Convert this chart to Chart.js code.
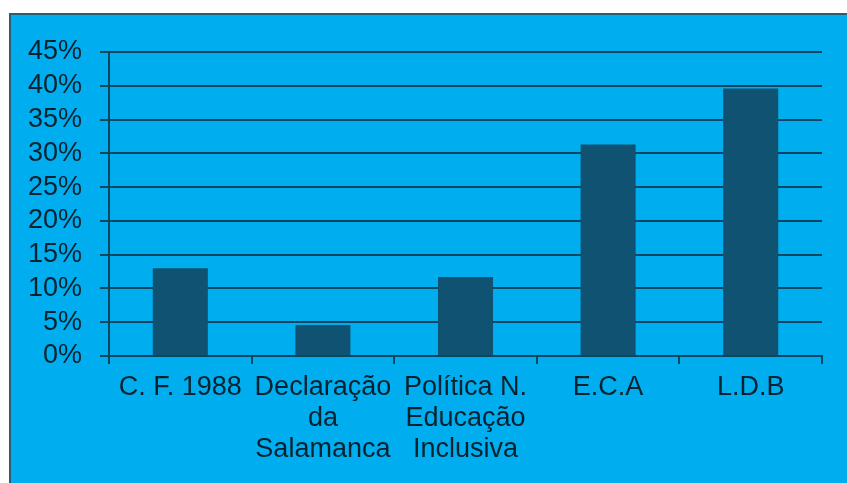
<!DOCTYPE html>
<html>
<head>
<meta charset="utf-8">
<script src="https://cdn.jsdelivr.net/npm/chart.js@4/dist/chart.umd.min.js"></script>
<style>
    html, body { margin: 0; padding: 0; background: #ffffff; overflow: hidden; }
    #frame {
        position: absolute;
        left: 9px;
        top: 13px;
        width: 850px;
        height: 480px;
        background: #00aeef;
        border: 2px solid #2d5d70;
    }
    #chart { display: block; }
</style>
</head>
<body>
<div id="frame"><canvas id="chart" width="836" height="470"></canvas></div>
<script>
// Chart data
const categories = [
    ['C. F. 1988'],
    ['Declaração', 'da', 'Salamanca'],
    ['Política N.', 'Educação', 'Inclusiva'],
    ['E.C.A'],
    ['L.D.B']
];
const percentValues = [13.0, 4.6, 11.7, 31.3, 39.6];
const yTickMax = 45;
const yTickStep = 5;

const darkLine = '#0b4660';
const textColor = '#06222f';
const labelFont = { family: '"Liberation Sans", Arial, sans-serif', size: 27, lineHeight: 1.15 };

const ctx = document.getElementById('chart');

new Chart(ctx, {
    type: 'bar',
    data: {
        labels: categories,
        datasets: [{
            data: percentValues,
            backgroundColor: '#0f5272',
            borderWidth: 0,
            categoryPercentage: 1,
            barPercentage: 0.386
        }]
    },
    options: {
        responsive: false,
        animation: false,
        layout: {
            padding: { top: 37, right: 25, bottom: 0, left: 0 }
        },
        plugins: {
            legend: { display: false },
            title: { display: false },
            tooltip: { enabled: false }
        },
        scales: {
            x: {
                offset: true,
                grid: {
                    offset: true,
                    drawOnChartArea: false,
                    drawTicks: true,
                    tickLength: 8,
                    color: darkLine,
                    lineWidth: 2
                },
                border: { display: true, color: darkLine, width: 2 },
                ticks: {
                    color: textColor,
                    font: labelFont,
                    padding: 8,
                    maxRotation: 0,
                    autoSkip: false
                },
                afterFit: function(scale) {
                    scale.height = 129;
                }
            },
            y: {
                min: 0,
                max: yTickMax,
                grid: {
                    color: darkLine,
                    lineWidth: 2,
                    drawTicks: true,
                    tickLength: 9
                },
                border: { display: true, color: darkLine, width: 2 },
                ticks: {
                    stepSize: yTickStep,
                    autoSkip: false,
                    color: textColor,
                    font: labelFont,
                    padding: 18,
                    callback: function(value) {
                        return value + '%';
                    }
                },
                afterFit: function(scale) {
                    scale.width = 98;
                }
            }
        }
    }
});
</script>
</body>
</html>
